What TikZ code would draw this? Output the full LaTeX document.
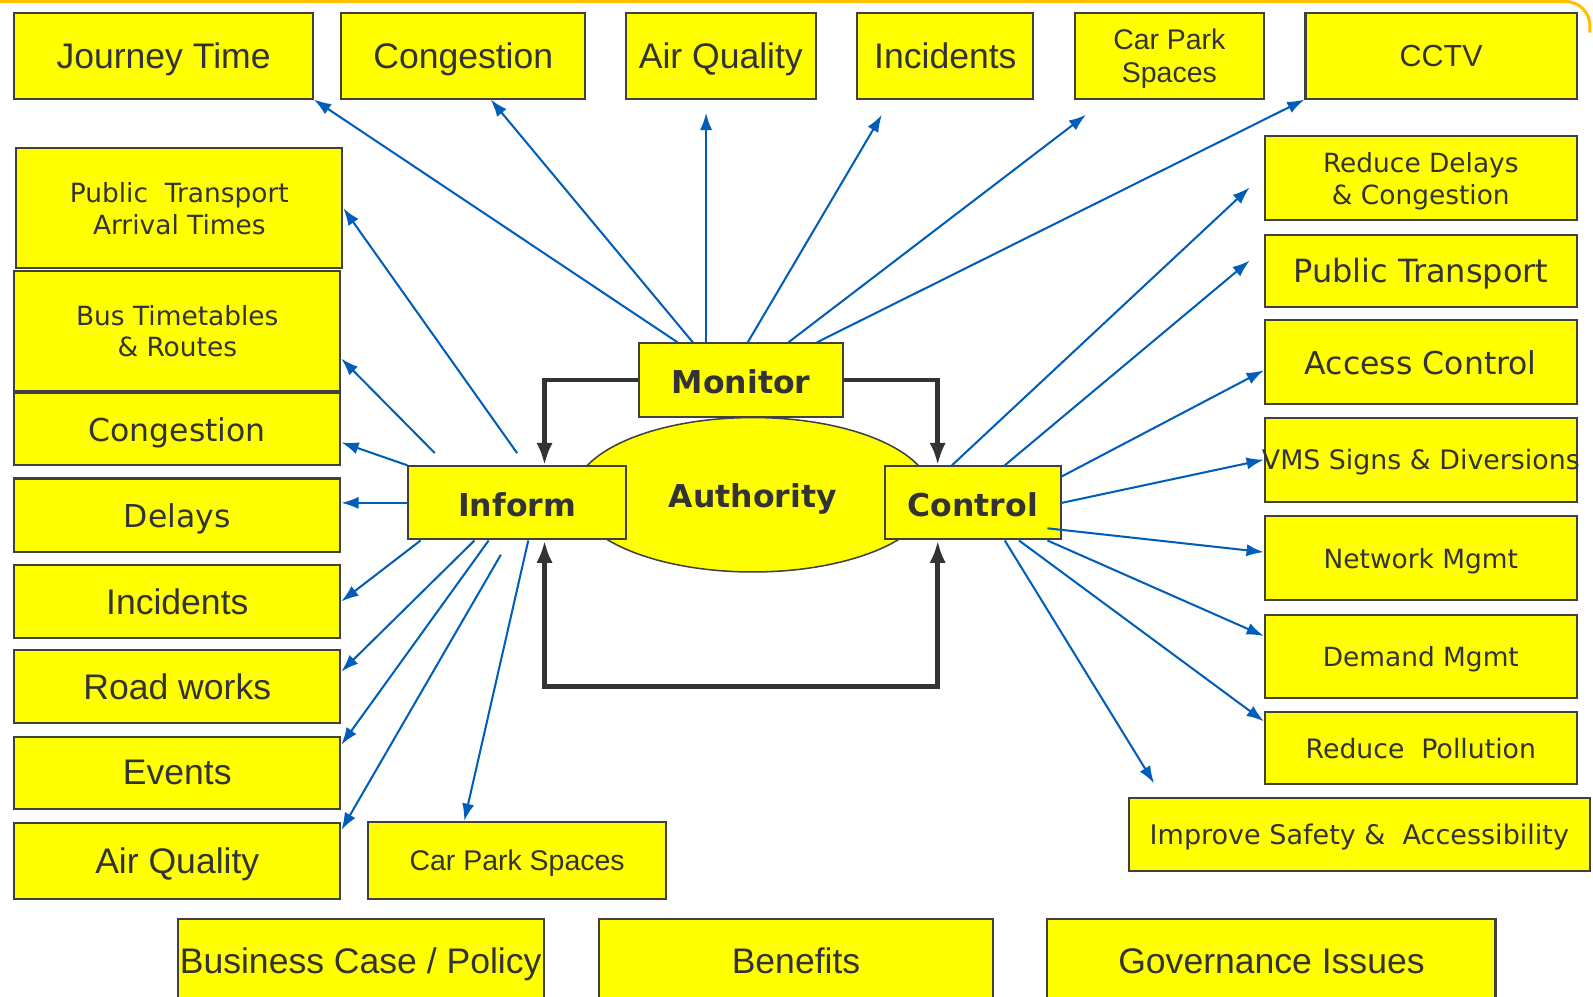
\documentclass[tikz,border=0pt]{standalone}
\usepackage{fontspec}
\setmainfont{DejaVu Sans}
\newfontfamily\arialfont{Liberation Sans}
\usetikzlibrary{arrows.meta,calc,shapes.geometric}

\definecolor{boxfill}{RGB}{255,255,0}
\definecolor{boxline}{RGB}{64,64,64}
\definecolor{ink}{RGB}{51,51,51}
\definecolor{linkblue}{RGB}{0,94,184}
\definecolor{frameorange}{RGB}{255,192,0}

\begin{document}
\begin{tikzpicture}[x=1pt,y=-1pt,
  box/.style={draw=boxline,fill=boxfill,line width=2pt,inner sep=0pt,align=center,text=ink,text depth=0pt},
  dims/.style 2 args={minimum width=#1pt,minimum height=#2pt},
  narrow/.style 2 args={box,font=\arialfont\fontsize{#1}{#2}\selectfont},
  wide/.style 2 args={box,font=\fontsize{#1}{#2}\selectfont},
  hub/.style={box,font=\bfseries\fontsize{31}{36}\selectfont,text height=26pt},
  feed/.style={draw=linkblue,line width=2pt,->,>={Latex[length=17pt,width=12pt]}},
  ring/.style={draw=ink,line width=4.5pt,>={Latex[length=22pt,width=16pt]}}]

\useasboundingbox (0,0) rectangle (1568,981);
\clip (0,0) rectangle (1568,981);
\fill[white] (0,0) rectangle (1568,981);
\draw[frameorange,line width=3pt,rounded corners=24pt] (0,1.5) -- (1565,1.5) -- (1565,32);

% authority in the middle
\node[ellipse,draw=boxline,fill=boxfill,line width=1.5pt,inner sep=0pt,
      minimum width=352pt,minimum height=152pt,text=ink,text height=26pt,text depth=0pt,
      font=\bfseries\fontsize{31}{36}\selectfont] (auth) at (741,487) {Authority};

% top row
\node[narrow={35}{40},dims={294}{84}] (jt) at (161,55) {Journey Time};
\node[narrow={35}{40},dims={240}{84}] (ctop) at (456,55) {Congestion};
\node[narrow={35}{40},dims={187}{84}] (aqtop) at (709.5,55) {Air Quality};
\node[narrow={35}{40},dims={173}{84}] (inctop) at (930.5,55) {Incidents};
\node[narrow={28}{32},dims={186}{84}] (cptop) at (1151,55) {Car Park\\Spaces};
\node[narrow={30}{34},dims={267}{84}] (cctv) at (1418.5,55) {CCTV};

% left column
\node[wide={26}{31},dims={321}{118}] (pta) at (176.5,205) {Public\ \ Transport\\Arrival Times};
\node[wide={26}{31},dims={321}{118}] (bus) at (174.5,326) {Bus Timetables\\\& Routes};
\node[wide={31}{35},dims={321}{71}] (cgl) at (174.5,422.5) {Congestion};
\node[wide={31}{35},dims={321}{72}] (dly) at (174.5,507) {Delays};
\node[narrow={35}{40},dims={321}{72}] (incl) at (174.5,592) {Incidents};
\node[narrow={35}{40},dims={321}{72}] (rw) at (174.5,676) {Road works};
\node[narrow={35}{40},dims={321}{71}] (ev) at (174.5,760.5) {Events};
\node[narrow={35}{40},dims={321}{75}] (aql) at (174.5,847.5) {Air Quality};
\node[narrow={28}{32},dims={294}{76}] (cpb) at (509,847) {Car Park Spaces};

% right column
\node[wide={26}{32},dims={307}{83}] (rd) at (1398.5,175.5) {Reduce Delays\\\& Congestion};
\node[wide={31.5}{35},dims={307}{71}] (ptr) at (1398.5,266.5) {Public Transport};
\node[wide={31}{35},dims={307}{83}] (ac) at (1398.5,356.5) {Access Control};
\node[wide={26.4}{30},dims={307}{83}] (vms) at (1398.5,452.5) {\makebox[0pt]{VMS Signs \& Diversions}};
\node[wide={26}{30},dims={307}{83}] (nm) at (1398.5,549.5) {Network Mgmt};
\node[wide={26}{30},dims={307}{82}] (dm) at (1398.5,646) {Demand Mgmt};
\node[wide={26.3}{30},dims={307}{71}] (rp) at (1398.5,736.5) {Reduce\ \ Pollution};
\node[wide={26.6}{30},dims={454}{72}] (is) at (1338,821) {Improve Safety \&\ \ Accessibility};

% bottom row
\node[narrow={35}{40},dims={360}{82}] (bc) at (355,946) {Business Case / Policy};
\node[narrow={35}{40},dims={387}{82}] (ben) at (783.5,946) {Benefits};
\node[narrow={35}{40},dims={441}{82}] (gov) at (1251.5,946) {Governance Issues};

% monitor / inform / control
\node[hub,dims={201}{72}] (mon) at (729.5,374) {Monitor};
\node[hub,dims={214}{72}] (inf) at (509,495) {Inform};
\node[hub,dims={173}{72}] (ctl) at (957.5,495) {Control};

% the loop between them
\coordinate (lowrun) at (741,676);
\draw[ring,->] (mon.west) -| ($(inf.north)+(27,0)$);
\draw[ring,->] (mon.east) -| ($(ctl.north)+(-34.5,0)$);
\draw[ring,<->] ($(inf.south)+(27,0)$) |- (lowrun) -| ($(ctl.south)+(-34.5,0)$);

% monitor feeds
\draw[feed] ($(mon.north west)+(39,0)$) -- (jt.south east);
\draw[feed] ($(mon.north west)+(54,0)$) -- ($(ctop.south west)+(148,0)$);
\draw[feed] ($(mon.north west)+(67,0)$) -- ($(aqtop.south west)+(80,13)$);
\draw[feed] ($(mon.north west)+(108,0)$) -- ($(inctop.south west)+(25,15)$);
\draw[feed] ($(mon.north west)+(148,0)$) -- ($(cptop.south west)+(12,15)$);
\draw[feed] ($(mon.north west)+(176,0)$) -- (cctv.south west);

% inform feeds
\draw[feed] ($(inf.north west)+(108,-12)$) -- (pta.east);
\draw[feed] ($(inf.north west)+(27,-12)$) -- ($(bus.south east)+(0,-33)$);
\draw[feed] (inf.north west) -- ($(cgl.east)+(0,13)$);
\draw[feed] (inf.west) -- (inf.west -| dly.east);
\draw[feed] ($(inf.south west)+(13,0)$) -- (incl.east);
\draw[feed] ($(inf.south west)+(66,0)$) -- ($(rw.north east)+(0,22)$);
\draw[feed] ($(inf.south west)+(80,0)$) -- ($(ev.north east)+(0,9)$);
\draw[feed] ($(inf.south west)+(92,14)$) -- ($(aql.north east)+(0,8)$);
\draw[feed] ($(inf.south west)+(119,0)$) -- ($(cpb.north west)+(96,0)$);

% control feeds
\draw[feed] ($(ctl.north west)+(67,0)$) -- ($(rd.west)+(-14,9)$);
\draw[feed] ($(ctl.north west)+(119,0)$) -- ($(ptr.west)+(-14,-10)$);
\draw[feed] ($(ctl.north east)+(0,11)$) -- ($(ac.west)+(0,8)$);
\draw[feed] (ctl.east) -- (vms.west);
\draw[feed] ($(ctl.south east)+(-14,-12)$) -- ($(nm.west)+(0,-6)$);
\draw[feed] ($(ctl.south east)+(-14,0)$) -- ($(dm.north west)+(0,22)$);
\draw[feed] ($(ctl.south west)+(133,0)$) -- ($(rp.north west)+(0,10)$);
\draw[feed] ($(ctl.south west)+(119,0)$) -- ($(is.north west)+(26,-13)$);

\end{tikzpicture}
\end{document}
